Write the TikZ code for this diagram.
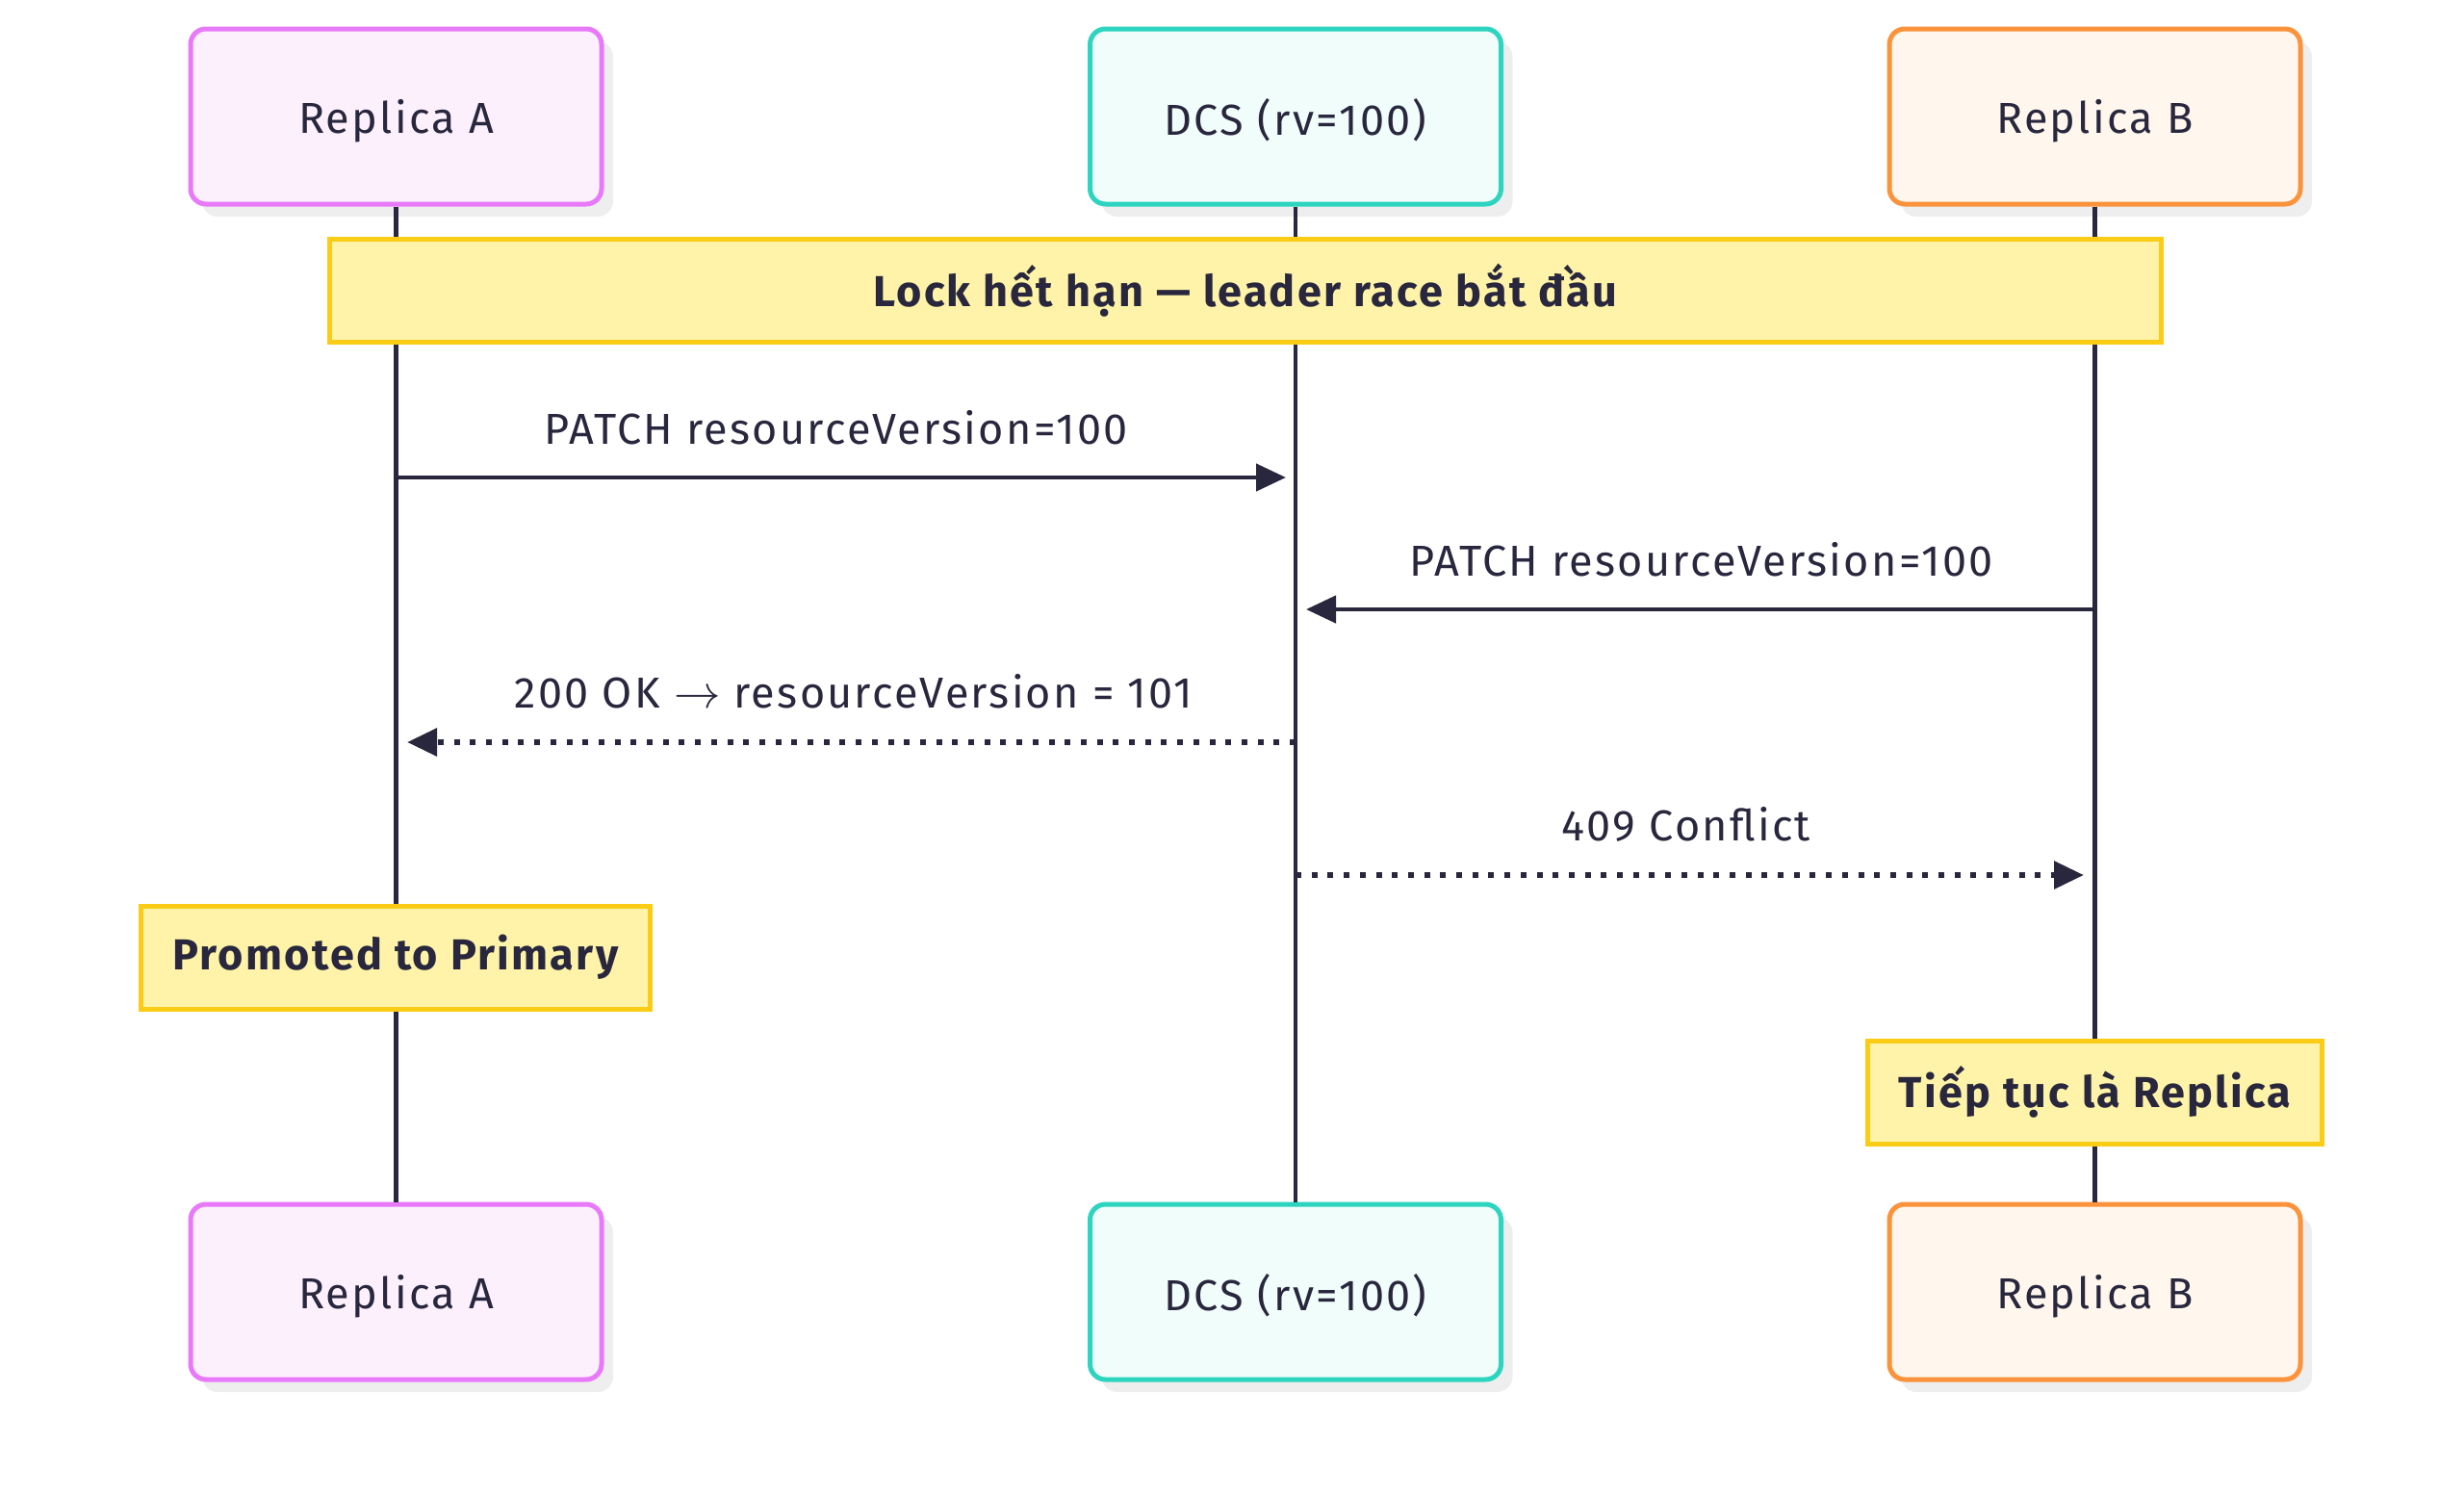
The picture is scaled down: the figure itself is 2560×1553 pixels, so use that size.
\documentclass[tikz,border=0pt]{standalone}
\usepackage{fontspec}
\usepackage{graphicx}
\setmainfont{Fira Sans}[LetterSpace=5]
\usetikzlibrary{arrows.meta,shadows}
\definecolor{ink}{HTML}{28273D}
\definecolor{aborder}{HTML}{E879F9}
\definecolor{afill}{HTML}{FDF0FD}
\definecolor{dborder}{HTML}{2DD4BF}
\definecolor{dfill}{HTML}{F0FDFA}
\definecolor{bborder}{HTML}{FB923C}
\definecolor{bfill}{HTML}{FFF7ED}
\definecolor{nborder}{HTML}{FACC15}
\definecolor{nfill}{HTML}{FEF3A8}
\definecolor{shade}{HTML}{EEEEEE}
\tikzset{
  actor/.style={draw, line width=5pt, rounded corners=16pt, minimum width=427pt, minimum height=182pt,
    font=\fontsize{45}{54}\selectfont, text=ink, text depth=0pt,
    drop shadow={fill=shade, opacity=1, shadow xshift=12pt, shadow yshift=-13pt}},
  actA/.style={actor, draw=aborder, fill=afill},
  actD/.style={actor, draw=dborder, fill=dfill},
  actB/.style={actor, draw=bborder, fill=bfill},
  notebox/.style={draw=nborder, fill=nfill, line width=5pt, minimum height=107pt,
    font=\fontsize{45}{54}\selectfont\bfseries, text=ink},
  lifeline/.style={draw=ink, line width=4.5pt},
  msg/.style={draw=ink, line width=4.5pt, -{Triangle[length=31pt,width=28pt]}},
  dottedmsg/.style={msg, line width=6pt, dash pattern=on 6pt off 10.7pt},
  lbl/.style={font=\fontsize{45}{54}\selectfont, text=ink}
}
\begin{document}
\begin{tikzpicture}[x=1pt,y=-1pt]
\useasboundingbox (0,0) rectangle (2560,1553);
% actors
\node[actA] (At) at (411.5,121) {Replica A};
\node[actD] (Dt) at (1346,121) {DCS (rv=100)};
\node[actB] (Bt) at (2176.5,121) {Replica B};
\node[actA] (Ab) at (411.5,1342) {Replica A};
\node[actD] (Db) at (1346,1342) {DCS (rv=100)};
\node[actB] (Bb) at (2176.5,1342) {Replica B};
% lifelines
\draw[lifeline] (At.south) -- (Ab.north);
\draw[lifeline] (Dt.south) -- (Db.north);
\draw[lifeline] (Bt.south) -- (Bb.north);
% top note
\node[notebox, minimum width=1903pt] (n0) at (1294,301.5) {Lock hết hạn — leader race bắt đầu};
% message points
\coordinate (m1a) at (411.5,496);
\coordinate (m1d) at (1336,496);
\coordinate (m2b) at (2176.5,633);
\coordinate (m2d) at (1357,633);
\coordinate (m3d) at (1346,771);
\coordinate (m3a) at (423,771);
\coordinate (m4d) at (1346,909);
\coordinate (m4b) at (2165,909);
\draw[msg] (m1a) -- (m1d);
\node[lbl] (l1) at (869,444) {PATCH resourceVersion=100};
\draw[msg] (m2b) -- (m2d);
\node[lbl] (l2) at (1768,581) {PATCH resourceVersion=100};
\draw[dottedmsg] (m3d) -- (m3a);
\node[lbl] (l3) at (887,718) {200 OK \scalebox{1.95}{$\rightarrow$} resourceVersion = 101};
\draw[dottedmsg] (m4d) -- (m4b);
\node[lbl] (l4) at (1752,856) {409 Conflict};
% notes
\node[notebox, minimum width=529pt] (n1) at (411,994.5) {Promoted to Primary};
\node[notebox, minimum width=472pt] (n2) at (2176.5,1134.5) {Tiếp tục là Replica};
\end{tikzpicture}
\end{document}
